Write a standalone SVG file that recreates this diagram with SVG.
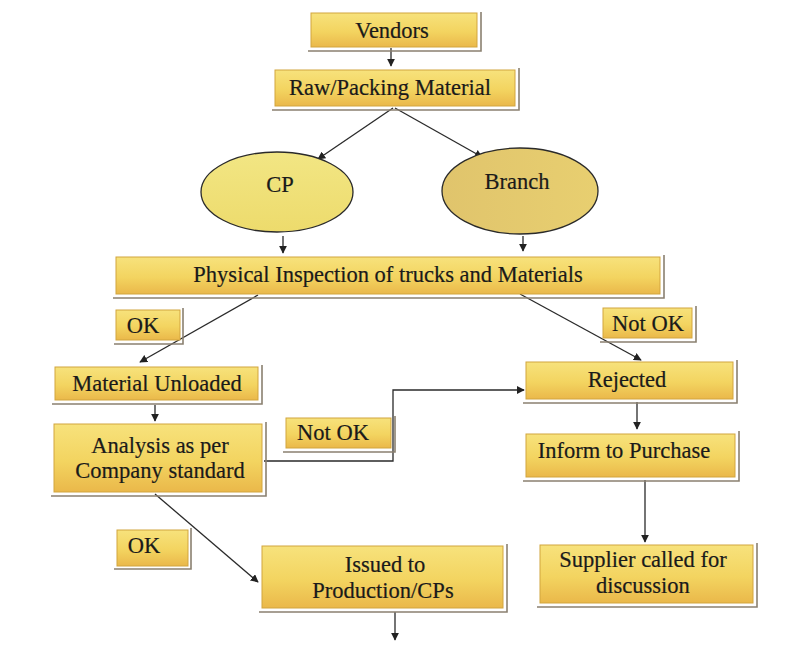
<svg xmlns="http://www.w3.org/2000/svg" width="794" height="661" viewBox="0 0 794 661">
  <defs>
    <linearGradient id="boxFill" x1="0" y1="0" x2="0" y2="1">
      <stop offset="0" stop-color="#f7e27c"/>
      <stop offset="0.55" stop-color="#f3d460"/>
      <stop offset="1" stop-color="#eab84a"/>
    </linearGradient>
    <linearGradient id="cpFill" x1="0" y1="0" x2="0" y2="1">
      <stop offset="0" stop-color="#f2e684"/>
      <stop offset="1" stop-color="#eddb6c"/>
    </linearGradient>
    <linearGradient id="branchFill" x1="0" y1="0" x2="1" y2="0">
      <stop offset="0" stop-color="#e0c46c"/>
      <stop offset="1" stop-color="#e8cf70"/>
    </linearGradient>
    <marker id="arr" viewBox="0 0 10 10" refX="9" refY="5" markerWidth="8" markerHeight="8" orient="auto" markerUnits="userSpaceOnUse">
      <path d="M0,0 L10,5 L0,10 z" fill="#222"/>
    </marker>
  </defs>
  <style>
    .box { fill: url(#boxFill); stroke: #d2a53e; stroke-width: 1; }
    .shadow { fill: none; stroke: #8a8070; stroke-width: 1.6; }
    .lbl { font-family: 'Liberation Serif', 'Times New Roman', serif; font-size: 22.5px; fill: #1a1a1a; text-anchor: middle; stroke: #1a1a1a; stroke-width: 0.2; }
    .edge { fill: none; stroke: #2a2a2a; stroke-width: 1.3; }
    .ell { stroke: #2a2a2a; stroke-width: 1.3; }
  </style>

  <rect width="794" height="661" fill="#ffffff"/>

  <g id="connectors">
    <line class="edge" x1="391" y1="48" x2="391" y2="66" marker-end="url(#arr)"/>
    <line class="edge" x1="393" y1="108" x2="318" y2="159" marker-end="url(#arr)"/>
    <line class="edge" x1="395" y1="108" x2="482" y2="157" marker-end="url(#arr)"/>
    <line class="edge" x1="283" y1="236" x2="283" y2="253" marker-end="url(#arr)"/>
    <line class="edge" x1="523" y1="236" x2="523" y2="251" marker-end="url(#arr)"/>
    <line class="edge" x1="258" y1="295" x2="140" y2="362" marker-end="url(#arr)"/>
    <line class="edge" x1="520" y1="294" x2="641" y2="360" marker-end="url(#arr)"/>
    <line class="edge" x1="155" y1="405" x2="155" y2="421" marker-end="url(#arr)"/>
    <polyline class="edge" points="264,461 393,461 393,390 524,390" marker-end="url(#arr)"/>
    <line class="edge" x1="637" y1="402" x2="637" y2="429" marker-end="url(#arr)"/>
    <line class="edge" x1="645" y1="480" x2="645" y2="542" marker-end="url(#arr)"/>
    <line class="edge" x1="155" y1="494" x2="258" y2="582" marker-end="url(#arr)"/>
    <line class="edge" x1="395" y1="612" x2="395" y2="640" marker-end="url(#arr)"/>
  </g>

  <g id="vendors">
    <polyline class="shadow" points="481,12 481,51 308,51"/>
    <rect class="box" x="311" y="13" width="166" height="34"/>
    <text class="lbl" x="392" y="38">Vendors</text>
  </g>

  <g id="raw-packing">
    <polyline class="shadow" points="519,68 519,110 272,110"/>
    <rect class="box" x="275" y="70" width="240" height="36"/>
    <text class="lbl" x="390" y="95">Raw/Packing Material</text>
  </g>

  <g id="cp">
    <ellipse class="ell" cx="277" cy="192" rx="76" ry="40" fill="url(#cpFill)"/>
    <text class="lbl" x="280" y="192">CP</text>
  </g>

  <g id="branch">
    <ellipse class="ell" cx="520" cy="191" rx="78" ry="43" fill="url(#branchFill)"/>
    <text class="lbl" x="517" y="189">Branch</text>
  </g>

  <g id="inspection">
    <polyline class="shadow" points="664,255 664,298 113,298"/>
    <rect class="box" x="116" y="257" width="544" height="37"/>
    <text class="lbl" x="388" y="282">Physical Inspection of trucks and Materials</text>
  </g>

  <g id="ok-1">
    <polyline class="shadow" points="183,308 183,344 114,344"/>
    <rect class="box" x="116" y="310" width="64" height="30"/>
    <text class="lbl" x="143" y="333">OK</text>
  </g>

  <g id="not-ok-1">
    <polyline class="shadow" points="696,306 696,342 600,342"/>
    <rect class="box" x="603" y="308" width="89" height="30"/>
    <text class="lbl" x="648" y="331">Not OK</text>
  </g>

  <g id="material-unloaded">
    <polyline class="shadow" points="262,365 262,404 52,404"/>
    <rect class="box" x="55" y="367" width="203" height="33"/>
    <text class="lbl" x="157" y="391">Material Unloaded</text>
  </g>

  <g id="analysis">
    <polyline class="shadow" points="266,422 266,496 51,496"/>
    <rect class="box" x="54" y="424" width="208" height="68"/>
    <text class="lbl" x="160" y="453">Analysis as per</text>
    <text class="lbl" x="160" y="478">Company standard</text>
  </g>

  <g id="not-ok-2">
    <polyline class="shadow" points="395,416 395,452 283,452"/>
    <rect class="box" x="286" y="418" width="105" height="30"/>
    <text class="lbl" x="333" y="440">Not OK</text>
  </g>

  <g id="rejected">
    <polyline class="shadow" points="737,360 737,403 523,403"/>
    <rect class="box" x="526" y="362" width="207" height="37"/>
    <text class="lbl" x="627" y="387">Rejected</text>
  </g>

  <g id="inform-purchase">
    <polyline class="shadow" points="739,431 739,481 523,481"/>
    <rect class="box" x="526" y="434" width="209" height="43"/>
    <text class="lbl" x="624" y="458">Inform to Purchase</text>
  </g>

  <g id="ok-2">
    <polyline class="shadow" points="191,528 191,569 114,569"/>
    <rect class="box" x="117" y="530" width="71" height="36"/>
    <text class="lbl" x="144" y="553">OK</text>
  </g>

  <g id="issued">
    <polyline class="shadow" points="507,544 507,612 259,612"/>
    <rect class="box" x="262" y="546" width="241" height="62"/>
    <text class="lbl" x="385" y="572">Issued to</text>
    <text class="lbl" x="383" y="598">Production/CPs</text>
  </g>

  <g id="supplier">
    <polyline class="shadow" points="757,543 757,607 537,607"/>
    <rect class="box" x="540" y="545" width="213" height="58"/>
    <text class="lbl" x="643" y="567">Supplier called for</text>
    <text class="lbl" x="643" y="593">discussion</text>
  </g>
</svg>
